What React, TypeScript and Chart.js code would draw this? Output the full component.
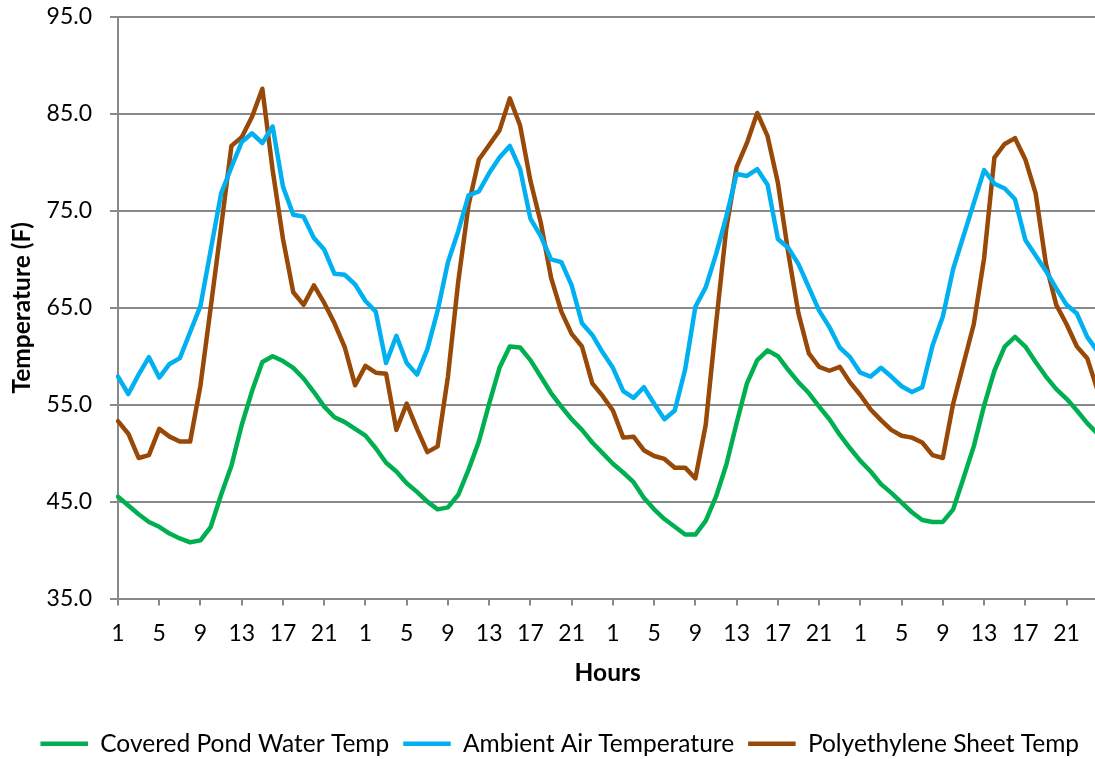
import { useEffect, useRef } from 'react';
import { Chart, registerables } from 'chart.js';

Chart.register(...registerables);

const HOURS = [1, 2, 3, 4, 5, 6, 7, 8, 9, 10, 11, 12, 13, 14, 15, 16, 17, 18, 19, 20, 21, 22, 23, 24];
const DAY_COUNT = 4;
const CATEGORIES: string[] = [];
for (let d = 0; d < DAY_COUNT; d++) for (const h of HOURS) CATEGORIES.push(String(h));
const TICK_HOURS = ['1', '5', '9', '13', '17', '21'];

const Y_MIN = 35;
const Y_MAX = 95;
const Y_STEP = 10;

const POND_WATER = [
  45.5, 44.6, 43.7, 42.9, 42.4, 41.7, 41.2, 40.8, 41.0, 42.4, 45.7, 48.7, 52.9, 56.4, 59.4, 60.0, 59.5, 58.8, 57.7, 56.3, 54.8, 53.7, 53.2, 52.5,
  51.8, 50.5, 49.0, 48.1, 46.9, 46.0, 45.0, 44.2, 44.4, 45.7, 48.3, 51.2, 55.1, 58.8, 61.0, 60.9, 59.6, 57.9, 56.2, 54.8, 53.5, 52.4, 51.1, 50.0,
  48.9, 48.0, 47.0, 45.4, 44.2, 43.2, 42.4, 41.6, 41.6, 43.0, 45.5, 48.8, 53.1, 57.2, 59.6, 60.6, 60.0, 58.6, 57.3, 56.2, 54.8, 53.5, 51.9, 50.5,
  49.2, 48.1, 46.8, 45.9, 44.9, 43.9, 43.1, 42.9, 42.9, 44.2, 47.4, 50.7, 54.9, 58.5, 61.0, 62.0, 61.0, 59.4, 57.9, 56.6, 55.6, 54.4, 53.1, 52.0,
];

const AMBIENT_AIR = [
  57.9, 56.1, 58.1, 59.9, 57.8, 59.2, 59.8, 62.5, 65.2, 71.0, 76.8, 79.5, 82.1, 83.0, 82.0, 83.7, 77.5, 74.6, 74.4, 72.2, 71.0, 68.5, 68.4, 67.4,
  65.7, 64.6, 59.3, 62.1, 59.3, 58.1, 60.7, 64.7, 69.7, 72.9, 76.6, 77.0, 78.9, 80.5, 81.7, 79.3, 74.2, 72.4, 70.0, 69.7, 67.3, 63.4, 62.2, 60.4,
  58.8, 56.4, 55.7, 56.8, 55.1, 53.5, 54.4, 58.6, 65.1, 67.1, 70.5, 74.4, 78.8, 78.6, 79.3, 77.7, 72.1, 71.2, 69.5, 67.1, 64.7, 63.0, 60.9, 59.9,
  58.3, 57.9, 58.8, 57.9, 56.9, 56.3, 56.8, 61.1, 64.1, 69.0, 72.4, 75.8, 79.2, 77.8, 77.3, 76.2, 72.0, 70.4, 68.8, 67.0, 65.3, 64.4, 62.0, 60.5,
];

const POLY_SHEET = [
  53.3, 52.0, 49.5, 49.8, 52.5, 51.7, 51.2, 51.2, 57.0, 65.1, 73.3, 81.7, 82.6, 84.7, 87.6, 79.2, 72.1, 66.6, 65.3, 67.3, 65.5, 63.4, 60.9, 57.0,
  59.0, 58.3, 58.2, 52.4, 55.1, 52.5, 50.1, 50.7, 57.9, 67.7, 75.6, 80.3, 81.8, 83.3, 86.6, 83.8, 78.1, 73.8, 68.1, 64.6, 62.3, 61.0, 57.2, 55.9,
  54.4, 51.6, 51.7, 50.3, 49.7, 49.4, 48.5, 48.5, 47.4, 52.9, 63.3, 73.2, 79.5, 82.0, 85.1, 82.7, 77.9, 70.7, 64.4, 60.3, 58.9, 58.5, 58.9, 57.3,
  56.0, 54.5, 53.4, 52.4, 51.8, 51.6, 51.1, 49.8, 49.5, 55.1, 59.2, 63.3, 70.1, 80.5, 81.9, 82.5, 80.3, 76.8, 69.5, 65.3, 63.3, 61.0, 59.8, 56.5,
];

const GREEN = '#00B050';
const BLUE = '#00B0F0';
const BROWN = '#984807';
const GRID = '#898989';
const FONT = 'Lato, sans-serif';

const CANVAS_W = 1117;
const CANVAS_H = 766;
const LEGEND_SHIFT = 11;

const legendShift = {
  id: 'legendShift',
  afterLayout(chart: any) {
    const lg = chart.legend;
    if (lg) {
      lg.left += LEGEND_SHIFT;
      lg.right += LEGEND_SHIFT;
    }
  },
};

export default function App() {
  const ref = useRef<HTMLCanvasElement>(null);

  useEffect(() => {
    if (!ref.current) return;
    const line = (label: string, data: number[], color: string) => ({
      label,
      data,
      borderColor: color,
      backgroundColor: color,
      borderWidth: 4.5,
      pointRadius: 0,
      pointHoverRadius: 0,
      tension: 0,
      borderCapStyle: 'round' as const,
      borderJoinStyle: 'round' as const,
      fill: false,
    });
    const chart = new Chart(ref.current, {
      type: 'line',
      data: {
        labels: CATEGORIES,
        datasets: [
          line('Covered Pond Water Temp', POND_WATER, GREEN),
          line('Ambient Air Temperature', AMBIENT_AIR, BLUE),
          line('Polyethylene Sheet Temp', POLY_SHEET, BROWN),
        ],
      },
      plugins: [legendShift],
      options: {
        responsive: false,
        animation: false,
        devicePixelRatio: 1,
        layout: { padding: { top: 17, right: CANVAS_W - 1097.5, bottom: 0, left: 0 } },
        plugins: {
          tooltip: { enabled: false },
          legend: {
            position: 'bottom',
            labels: {
              usePointStyle: true,
              pointStyle: 'line',
              pointStyleWidth: 47.5,
              padding: 14,
              color: '#000',
              font: { family: FONT, size: 24.5 },
            },
          },
        },
        scales: {
          x: {
            type: 'category',
            offset: false,
            afterFit: (scale: any) => {
              scale.paddingLeft = 0;
              scale.paddingRight = 0;
              scale.height = 119;
            },
            grid: {
              drawOnChartArea: false,
              drawTicks: true,
              tickLength: 7,
              lineWidth: 2,
              color: (ctx: any) => (ctx.index % 4 === 0 ? GRID : 'rgba(0,0,0,0)'),
            },
            border: { display: true, color: GRID, width: 2 },
            ticks: {
              autoSkip: false,
              maxRotation: 0,
              minRotation: 0,
              padding: 14,
              color: '#000',
              font: { family: FONT, size: 23 },
              callback: (_v: any, i: number) => (TICK_HOURS.includes(CATEGORIES[i]) && i % 4 === 0 ? CATEGORIES[i] : ''),
            },
            title: {
              display: true,
              text: 'Hours',
              color: '#000',
              font: { family: FONT, size: 24.5, weight: 'bold' },
              padding: { top: 0, bottom: 30 },
            },
          },
          y: {
            min: Y_MIN,
            max: Y_MAX,
            afterFit: (scale: any) => {
              scale.width = 118;
              scale.paddingTop = 0;
              scale.paddingBottom = 0;
            },
            grid: { color: GRID, lineWidth: 2, drawTicks: true, tickLength: 8 },
            border: { display: true, color: GRID, width: 2 },
            ticks: {
              stepSize: Y_STEP,
              padding: 18,
              color: '#000',
              font: { family: FONT, size: 23 },
              callback: (v: any) => Number(v).toFixed(1),
            },
            title: {
              display: true,
              text: 'Temperature (F)',
              color: '#000',
              font: { family: FONT, size: 24.5, weight: 'bold' },
              padding: { top: 7.3, bottom: 0 },
            },
          },
        },
      },
    });
    return () => chart.destroy();
  }, []);

  return (
    <div style={{ position: 'fixed', left: 0, top: 0, width: 1095, height: 759, overflow: 'hidden', background: '#fff' }}>
      <canvas ref={ref} width={CANVAS_W} height={CANVAS_H} style={{ display: 'block' }} />
    </div>
  );
}
